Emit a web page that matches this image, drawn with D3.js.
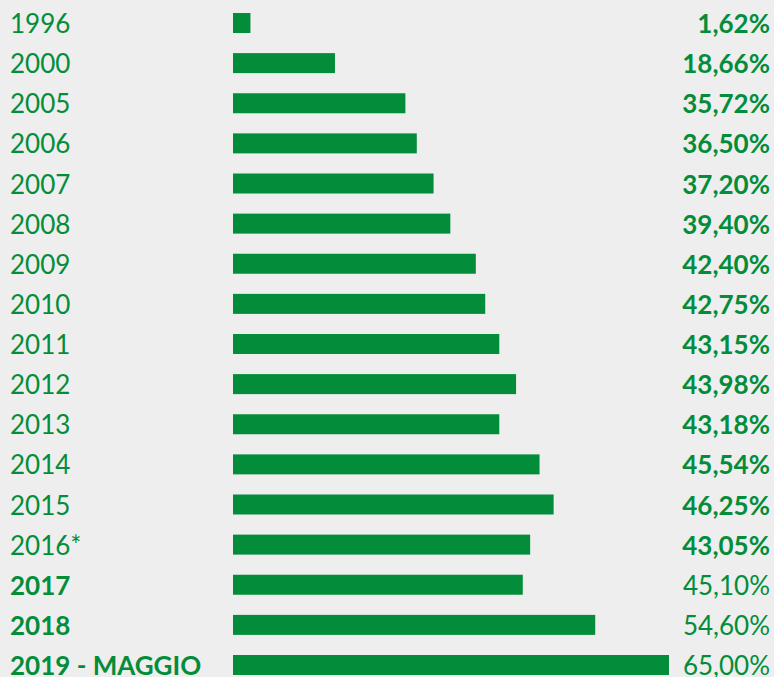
<!DOCTYPE html>
<html>
<head>
<meta charset="utf-8">
<script src="https://cdn.jsdelivr.net/npm/d3@7"></script>
<style>
  html, body { margin: 0; padding: 0; background: #eeeeee; }
  svg { display: block; }
  text { font-family: Lato, "Open Sans", sans-serif; }
</style>
</head>
<body>
<div id="chart"></div>
<script>
// row labels (years), bold ones are the last three
var years = ["1996", "2000", "2005", "2006", "2007", "2008", "2009", "2010",
    "2011", "2012", "2013", "2014", "2015", "2016*", "2017", "2018", "2019 - MAGGIO"];
var boldYears = ["2017", "2018", "2019 - MAGGIO"];

// percentages printed on the right
var values = [1.62, 18.66, 35.72, 36.50, 37.20, 39.40, 42.40, 42.75,
    43.15, 43.98, 43.18, 45.54, 46.25, 43.05, 45.10, 54.60, 65.00];

// bar lengths as drawn in the source (not proportional to the labels there),
// same units as the percentages
var barLengths = [2.6, 15.2, 25.7, 27.4, 29.9, 32.4, 36.2, 37.6,
    39.7, 42.2, 39.7, 45.7, 47.8, 44.3, 43.2, 54.0, 65.0];

var width = 774;
var height = 677;
var barLeft = 233;
var barHeight = 20;
var green = "#038d3a";

var rows = years.map(function(d, i) {
    return { year: d, value: values[i], len: barLengths[i], bold: boldYears.indexOf(d) >= 0 };
});

var svg = d3.select("#chart").append("svg")
    .attr("width", width)
    .attr("height", height);

var x = d3.scaleLinear()
    .domain([0, 65])
    .range([0, 436]);

var y = d3.scalePoint()
    .domain(years)
    .range([23, 665]);

var fmt = function(v) { return d3.format(".2f")(v).replace(".", ",") + "%"; };

var row = svg.selectAll(".row")
    .data(rows)
  .enter().append("g")
    .attr("class", "row")
    .attr("transform", function(d) { return "translate(0," + y(d.year) + ")"; });

row.append("rect")
    .attr("x", barLeft)
    .attr("y", -barHeight / 2)
    .attr("width", function(d) { return x(d.len); })
    .attr("height", barHeight)
    .style("fill", green);

row.append("text")
    .attr("x", 10)
    .attr("y", 10)
    .style("font-size", "26px")
    .style("font-weight", function(d) { return d.bold ? "bold" : "normal"; })
    .style("fill", green)
    .text(function(d) { return d.year; });

// value labels: bold except the last three rows
row.append("text")
    .attr("x", 770)
    .attr("y", 10)
    .attr("text-anchor", "end")
    .style("font-size", "26px")
    .style("font-weight", function(d) { return d.bold ? "normal" : "bold"; })
    .style("fill", green)
    .text(function(d) { return fmt(d.value); });
</script>
</body>
</html>
